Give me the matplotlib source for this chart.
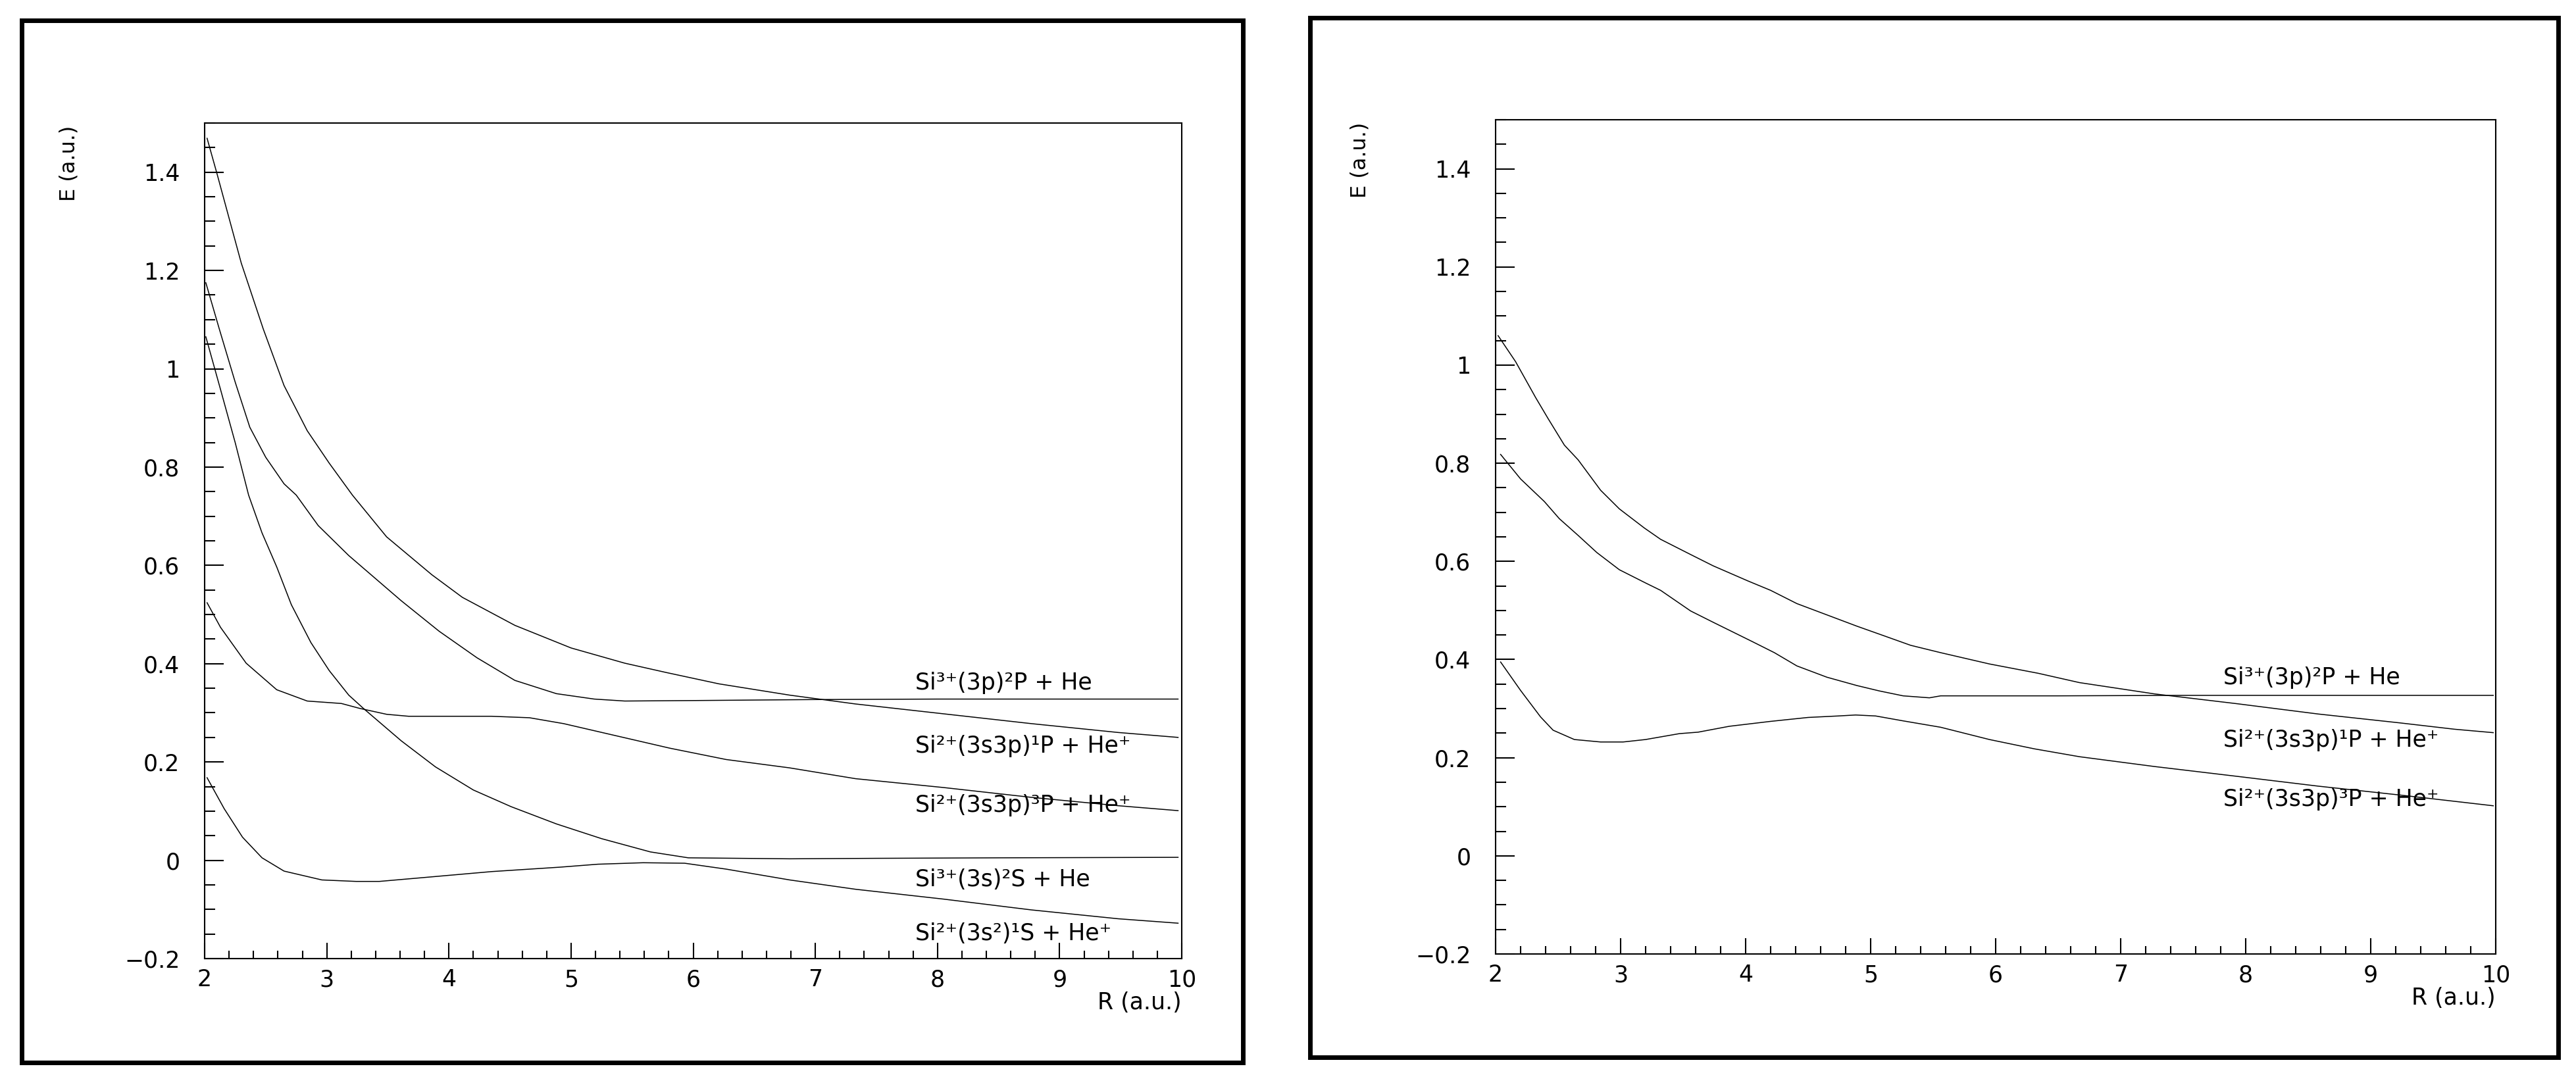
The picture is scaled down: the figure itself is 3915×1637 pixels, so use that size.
import matplotlib
matplotlib.use("Agg")
import matplotlib.pyplot as plt
from matplotlib.patches import Rectangle
from matplotlib.ticker import MultipleLocator, FuncFormatter

plt.rcParams['font.family'] = ['DejaVu Sans']

# ---- left panel: five potential curves (R in a.u., E in a.u.) ----
r_l1 = [2.02, 2.10, 2.30, 2.48, 2.65, 2.84, 3.02, 3.21, 3.49, 3.86, 4.11, 4.54, 5.00,
        5.44, 5.78, 6.21, 6.79, 7.33, 8.05, 8.77, 9.48, 9.97]
e_l1 = [1.469, 1.398, 1.215, 1.081, 0.966, 0.874, 0.808, 0.743, 0.658, 0.581, 0.535, 0.478,
        0.432, 0.401, 0.382, 0.359, 0.336, 0.318, 0.298, 0.278, 0.260, 0.250]

r_l2 = [2.01, 2.12, 2.25, 2.37, 2.50, 2.65, 2.75, 2.93, 3.18, 3.61, 3.92, 4.23, 4.54, 4.88,
        5.19, 5.44, 6.0, 7.0, 8.0, 9.0, 9.97]
e_l2 = [1.175, 1.081, 0.973, 0.881, 0.820, 0.766, 0.743, 0.681, 0.620, 0.528, 0.466, 0.412,
        0.366, 0.339, 0.328, 0.324, 0.325, 0.327, 0.328, 0.328, 0.328]

r_l3 = [2.01, 2.13, 2.25, 2.36, 2.47, 2.59, 2.71, 2.87, 3.02, 3.18, 3.30, 3.61, 3.89, 4.20,
        4.51, 4.88, 5.25, 5.65, 5.96, 6.79, 7.5, 8.5, 9.97]
e_l3 = [1.065, 0.958, 0.850, 0.743, 0.666, 0.597, 0.520, 0.443, 0.386, 0.336, 0.309, 0.243,
        0.190, 0.143, 0.109, 0.074, 0.044, 0.017, 0.005, 0.003, 0.004, 0.005, 0.006]

r_l4 = [2.02, 2.13, 2.34, 2.59, 2.84, 3.12, 3.27, 3.49, 3.67, 4.35, 4.66, 4.94, 5.34, 5.81,
        6.27, 6.79, 7.33, 8.05, 8.77, 9.48, 9.97]
e_l4 = [0.524, 0.474, 0.401, 0.347, 0.324, 0.319, 0.309, 0.297, 0.293, 0.293, 0.290, 0.278,
        0.255, 0.228, 0.205, 0.188, 0.166, 0.148, 0.128, 0.111, 0.101]

r_l5 = [2.02, 2.16, 2.31, 2.47, 2.65, 2.96, 3.24, 3.43, 3.80, 4.35, 4.91, 5.22, 5.59, 5.93,
        6.27, 6.79, 7.33, 8.05, 8.77, 9.48, 9.97]
e_l5 = [0.168, 0.105, 0.047, 0.005, -0.022, -0.040, -0.043, -0.043, -0.035, -0.023, -0.014,
        -0.008, -0.005, -0.006, -0.018, -0.040, -0.059, -0.079, -0.101, -0.119, -0.128]

# ---- right panel: three curves ----
r_r1 = [2.02, 2.16, 2.32, 2.42, 2.55, 2.66, 2.84, 2.99, 3.19, 3.32, 3.56, 3.74, 4.02, 4.20,
        4.41, 4.65, 4.89, 5.10, 5.32, 5.56, 5.95, 6.34, 6.67, 7.27, 7.93, 8.58, 9.23, 9.67, 9.98]
e_r1 = [1.060, 1.007, 0.934, 0.891, 0.837, 0.807, 0.745, 0.707, 0.668, 0.645, 0.614, 0.591,
        0.560, 0.541, 0.514, 0.491, 0.468, 0.449, 0.429, 0.414, 0.391, 0.372, 0.353, 0.330,
        0.310, 0.289, 0.271, 0.258, 0.251]

r_r2 = [2.04, 2.20, 2.39, 2.51, 2.66, 2.81, 2.99, 3.20, 3.32, 3.56, 3.74, 4.05, 4.23, 4.41,
        4.65, 4.89, 5.07, 5.26, 5.47, 5.56, 6.5, 7.5, 8.5, 9.98]
e_r2 = [0.818, 0.768, 0.722, 0.687, 0.653, 0.618, 0.583, 0.556, 0.541, 0.499, 0.476, 0.437,
        0.414, 0.387, 0.364, 0.347, 0.336, 0.326, 0.322, 0.326, 0.326, 0.327, 0.327, 0.327]

r_r3 = [2.04, 2.20, 2.36, 2.46, 2.63, 2.84, 3.02, 3.20, 3.47, 3.62, 3.87, 4.20, 4.50, 4.74,
        4.88, 5.04, 5.26, 5.56, 5.95, 6.31, 6.67, 7.27, 7.93, 8.58, 9.23, 9.98]
e_r3 = [0.395, 0.337, 0.283, 0.256, 0.237, 0.232, 0.232, 0.237, 0.249, 0.252, 0.264, 0.274,
        0.282, 0.285, 0.287, 0.285, 0.275, 0.262, 0.237, 0.218, 0.202, 0.182, 0.162, 0.142,
        0.124, 0.102]

labels_left = ['Si\u00b3\u207a(3p)\u00b2P + He',
               'Si\u00b2\u207a(3s3p)\u00b9P + He\u207a',
               'Si\u00b2\u207a(3s3p)\u00b3P + He\u207a',
               'Si\u00b3\u207a(3s)\u00b2S + He',
               'Si\u00b2\u207a(3s\u00b2)\u00b9S + He\u207a']
label_e_left = [0.347, 0.219, 0.099, -0.053, -0.162]
labels_right = labels_left[:3]
label_e_right = [0.350, 0.222, 0.102]
label_r = 7.82

W, H = 3915, 1637
fig = plt.figure(figsize=(W / 100, H / 100), dpi=100)


def frame(x0, y0, x1, y1):
    # outer boxes drawn in pixel coords (top-left origin)
    fig.add_artist(Rectangle((x0 / W, 1 - y1 / H), (x1 - x0) / W, (y1 - y0) / H,
                             transform=fig.transFigure, fill=False, lw=5.0, color='black'))


def fmt(v, pos):
    s = '%g' % round(v, 2)
    return s.replace('-', '\u2212')


def setup(ax, ax_w_px, ax_h_px):
    ax.set_xlim(2, 10)
    ax.set_ylim(-0.2, 1.5)
    ax.xaxis.set_major_locator(MultipleLocator(1))
    ax.xaxis.set_minor_locator(MultipleLocator(0.2))
    ax.yaxis.set_major_locator(MultipleLocator(0.2))
    ax.yaxis.set_minor_locator(MultipleLocator(0.05))
    ax.yaxis.set_major_formatter(FuncFormatter(fmt))
    ax.tick_params(which='both', direction='in', top=False, right=False, width=1.5)
    ax.tick_params(axis='y', which='major', length=21, pad=27, labelsize=25)
    ax.tick_params(axis='y', which='minor', length=11.5)
    ax.tick_params(axis='x', which='major', length=17, pad=11, labelsize=25)
    ax.tick_params(axis='x', which='minor', length=9)
    for sp in ax.spines.values():
        sp.set_linewidth(1.5)
    ax.text(1.0, -50 / ax_h_px, 'R (a.u.)', transform=ax.transAxes,
            ha='right', va='top', fontsize=25)
    ax.text(-206 / ax_w_px, 0.997, 'E (a.u.)', transform=ax.transAxes,
            ha='center', va='top', rotation=90, fontsize=23)


frame(32.5, 30.5, 1888.5, 1614.5)
frame(1990.5, 26.5, 3887.5, 1606.5)

# left axes: x 311..1796, y 187..1457 (pixels)
ax1 = fig.add_axes([311 / W, 1 - 1457 / H, 1485 / W, 1270 / H])
setup(ax1, 1485, 1270)
for r, e in [(r_l1, e_l1), (r_l2, e_l2), (r_l3, e_l3), (r_l4, e_l4), (r_l5, e_l5)]:
    ax1.plot(r, e, color='black', lw=1.1)
for lab, y in zip(labels_left, label_e_left):
    ax1.text(label_r, y, lab, ha='left', va='baseline', fontsize=25)

# right axes: x 2273..3793, y 182..1450 (pixels)
ax2 = fig.add_axes([2273 / W, 1 - 1450 / H, 1520 / W, 1268 / H])
setup(ax2, 1520, 1268)
for r, e in [(r_r1, e_r1), (r_r2, e_r2), (r_r3, e_r3)]:
    ax2.plot(r, e, color='black', lw=1.1)
for lab, y in zip(labels_right, label_e_right):
    ax2.text(label_r, y, lab, ha='left', va='baseline', fontsize=25)

fig.savefig('out.png', dpi=100, facecolor='white')
